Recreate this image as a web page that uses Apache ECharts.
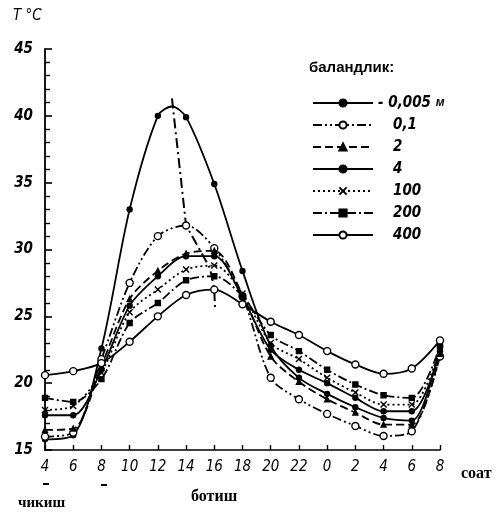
<!DOCTYPE html>
<html><head><meta charset="utf-8">
<script src="https://cdn.jsdelivr.net/npm/echarts@6/dist/echarts.min.js"></script>
<style>html,body{margin:0;padding:0;background:#fff}#c{width:498px;height:514px}</style>
</head><body><div id="c"></div>
<script>
// hours elapsed since 4:00 (value axis) and their clock labels
const hourTicks = [0,2,4,6,8,10,12,14,16,18,20,22,24,26,28];
const hourLabels = ['4','6','8','10','12','14','16','18','20','22','0','2','4','6','8'];
const depthNames = ['- 0,005 м','0,1','2','4','100','200','400'];
// surface curve also read at its 13:00 peak
const hours0005 = [0,2,4,6,8,9,10,12,14,16,18,20,22,24,26,28];
const t0005 = [15.8, 16.1, 22.6, 33.0, 40.0, 40.7, 39.9, 34.9, 28.4, 22.8, 20.4, 19.2, 18.2, 17.4, 17.2, 22.8];
// temperature (°C) at the other depths
const t01   = [16.0, 16.3, 21.8, 27.5, 31.0, 31.8, 30.1, 26.5, 20.4, 18.8, 17.7, 16.8, 16.05, 16.4, 22.0];
const t2    = [16.5, 16.6, 21.3, 26.3, 28.4, 29.7, 29.9, 26.6, 22.0, 20.1, 18.8, 17.8, 16.9, 16.9, 22.2];
const t4    = [17.6, 17.6, 21.0, 25.8, 28.0, 29.5, 29.5, 26.4, 22.5, 21.0, 20.0, 18.9, 17.9, 17.9, 22.4];
const t100  = [18.0, 18.3, 20.8, 25.3, 27.0, 28.5, 28.8, 26.7, 23.0, 21.8, 20.4, 19.3, 18.4, 18.4, 22.6];
const t200  = [18.9, 18.6, 20.3, 24.5, 26.0, 27.7, 28.0, 26.5, 23.6, 22.4, 21.0, 19.9, 19.1, 18.9, 22.8];
const t400  = [20.6, 20.9, 21.5, 23.1, 25.0, 26.6, 27.0, 25.9, 24.6, 23.6, 22.4, 21.4, 20.7, 21.1, 23.2];
// locus of the daily maxima
const peakX = [9, 10, 11.7, 12, 12.05];
const peakY = [41.3, 31.8, 28.6, 27.0, 25.6];
const yTicks = [15, 20, 25, 30, 35, 40, 45];

const pts = (arr, xs = hourTicks) => xs.map((h, i) => [h, arr[i]]);
const numFont = {fontFamily:'DejaVu Sans Condensed', fontStyle:'italic', fontWeight:'bold', color:'#000'};
const crossPath = 'path://M0,0L10,10M10,0L0,10';

function mk(name, data, dash, symbol, size, fill) {
  return {
    name, type:'line', data, smooth: 0.3,
    symbol, symbolSize: size, showSymbol: true,
    lineStyle: {color:'#000', width:1.8, type: dash},
    itemStyle: {color: fill, borderColor:'#000', borderWidth:1.4},
    emphasis: {disabled:true}, z: 3
  };
}
const surfaceData = pts(t0005, hours0005).map(p => p[0] === 9 ? {value:p, symbol:'none'} : p);

const chart = echarts.init(document.getElementById('c'), null, {renderer:'canvas'});
chart.setOption({
  animation:false,
  backgroundColor:'#fff',
  grid:{left:45, right:58, top:49, bottom:64},
  title:[
    {text:'T °C', left:8, top:4, textStyle:{fontFamily:'DejaVu Sans Condensed', fontStyle:'italic', fontWeight:'normal', fontSize:15, color:'#000'}},
    {text:'баландлик:', left:304, top:55, textStyle:{fontFamily:'Liberation Sans', fontWeight:'bold', fontSize:15, color:'#000'}}
  ],
  legend:{
    data: depthNames, orient:'vertical', left:312, top:94, padding:0,
    itemWidth:60, itemHeight:9, itemGap:4,
    textStyle:{...numFont, fontSize:15, lineHeight:18,
      rich:{p:{width:15}, t:{...numFont, fontSize:15}, m:{fontFamily:'Liberation Sans', fontWeight:'bold', fontSize:12, color:'#000'}}},
    formatter: n => n.startsWith('-') ? '{t|- 0,005 }{m|м}' : '{p|}{t|' + n + '}'
  },
  xAxis:{
    type:'value', min:0, max:28, interval:2,
    axisLine:{lineStyle:{color:'#000', width:1.6}},
    axisTick:{inside:true, length:5, lineStyle:{color:'#000', width:1.4}},
    splitLine:{show:false},
    axisLabel:{...numFont, fontWeight:'normal', fontSize:15, margin:10, formatter: v => hourLabels[v/2]}
  },
  yAxis:{
    type:'value', min:15, max:45, interval:5,
    axisLine:{show:true, lineStyle:{color:'#000', width:1.8}},
    axisTick:{show:true, inside:true, length:7, lineStyle:{color:'#000', width:1.6}},
    minorTick:{show:true, splitNumber:5, length:5, lineStyle:{color:'#000', width:1.4}},
    splitLine:{show:false},
    axisLabel:{...numFont, fontSize:15, margin:12, formatter: v => yTicks.includes(v) ? String(v) : ''}
  },
  series:[
    mk(depthNames[0], surfaceData, 'solid', 'circle', 5, '#000'),
    mk(depthNames[1], pts(t01), [9,3,2,3,2,3], 'circle', 7, '#fff'),
    mk(depthNames[2], pts(t2), [8,4], 'triangle', 5, '#000'),
    mk(depthNames[3], pts(t4), 'solid', 'circle', 5, '#000'),
    mk(depthNames[4], pts(t100), [2,3], crossPath, 6, '#000'),
    mk(depthNames[5], pts(t200), [9,3,2,3], 'rect', 5, '#000'),
    mk(depthNames[6], pts(t400), 'solid', 'circle', 7, '#fff'),
    {name:'peak', type:'line', data: peakX.map((x,i)=>[x, peakY[i]]), smooth:false, showSymbol:false,
     lineStyle:{color:'#000', width:2, type:[10,4,2,4]}, emphasis:{disabled:true}, z:2}
  ],
  graphic:[
    {type:'text', left:461, top:466, style:{text:'соат', font:'bold 16px "Liberation Serif"', fill:'#000'}},
    {type:'text', left:18, top:496, style:{text:'чикиш', font:'bold 15px "Liberation Serif"', fill:'#000'}},
    {type:'text', left:191, top:489, style:{text:'ботиш', font:'bold 16px "Liberation Serif"', fill:'#000'}},
    {type:'rect', shape:{x:43, y:483, width:6, height:2}, style:{fill:'#000'}},
    {type:'rect', shape:{x:101, y:484, width:6, height:2}, style:{fill:'#000'}}
  ]
});
</script></body></html>
